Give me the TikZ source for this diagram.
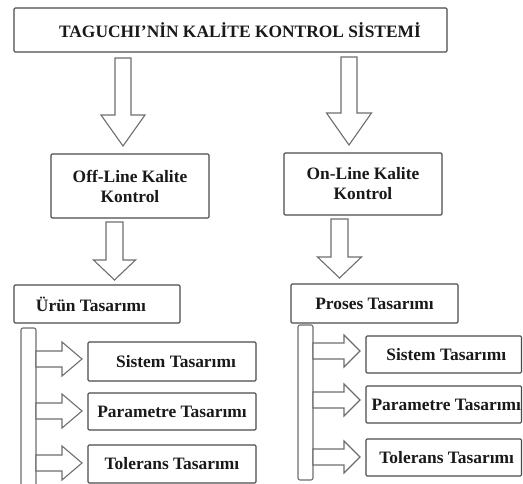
\documentclass[tikz,border=0pt]{standalone}
\usepackage{fontspec}
\setmainfont{Liberation Serif}
\definecolor{boxgray}{HTML}{4A4A4A}
\definecolor{arrgray}{HTML}{6E6E6E}
\newcommand\DownArr[6]{% cx, ytop, yhead, ytip, shaft half, head half
  \draw[barrow] ({#1-#5},#2) -- ({#1+#5},#2) -- ({#1+#5},#3) -- ({#1+#6},#3)
    -- (#1,#4) -- ({#1-#6},#3) -- ({#1-#5},#3) -- cycle;}
\newcommand\RightArr[6]{% xleft, cy, xhead, xtip, shaft half, head half
  \draw[barrow] (#1,{#2-#5}) -- (#3,{#2-#5}) -- (#3,{#2-#6}) -- (#4,#2)
    -- (#3,{#2+#6}) -- (#3,{#2+#5}) -- (#1,{#2+#5}) -- cycle;}
\begin{document}
\begin{tikzpicture}[x=1pt,y=-1pt,
  box/.style={draw=boxgray, line width=1.1pt, rounded corners=1.2pt, fill=white,
    inner sep=0pt, align=center, font=\bfseries\fontsize{17.4}{20}\selectfont, text=black!90},
  barrow/.style={draw=arrgray, line width=1.1pt, fill=white, line join=miter},
  bar/.style={draw=arrgray, line width=1.1pt, fill=white, rounded corners=2pt}]
\useasboundingbox (0,0) rectangle (523,484);

% boxes
\node[box, minimum width=433pt, minimum height=44pt] (title) at (230.5,30)
  {\hspace*{19pt}TAGUCHI{\char"0027}NİN KALİTE KONTROL SİSTEMİ};
\node[box, minimum width=158pt, minimum height=64pt] (off) at (130,186)
  {Off-Line Kalite\\Kontrol};
\node[box, minimum width=158pt, minimum height=62pt] (on) at (363,184)
  {On-Line Kalite\\Kontrol};
\node[box, minimum width=166pt, minimum height=38pt] (urun) at (97,304)
  {Ürün Tasarımı\hspace*{12pt}};
\node[box, minimum width=167pt, minimum height=39pt] (proses) at (374.5,303.5)
  {Proses Tasarımı};

\node[box, minimum width=168pt, minimum height=39pt] (ls) at (172,361.5)
  {\hspace*{8pt}Sistem Tasarımı};
\node[box, minimum width=168pt, minimum height=37pt] (lp) at (172,411.5)
  {Parametre Tasarımı};
\node[box, minimum width=168pt, minimum height=38pt] (lt) at (172,464)
  {Tolerans Tasarımı};
\node[box, minimum width=155.5pt, minimum height=37pt] (rs) at (443.75,354.5)
  {\hspace*{5pt}Sistem Tasarımı};
\node[box, minimum width=155.5pt, minimum height=37pt] (rp) at (443.75,404.5)
  {\hspace*{5pt}Parametre Tasarımı};
\node[box, minimum width=155.5pt, minimum height=37pt] (rt) at (443.75,457.5)
  {\hspace*{6pt}Tolerans Tasarımı};

% big down arrows
\DownArr{123}{58}{115}{146}{8}{22}
\DownArr{349}{57}{113}{145}{8}{22.5}
% small down arrows
\DownArr{114.5}{222}{260}{280}{8.5}{21}
\DownArr{339.5}{219}{257}{278}{8.5}{22}

% side bars
\draw[bar] (21,328) rectangle (36,490);
\draw[bar] (298,325) rectangle (313,480);

% right arrows
\RightArr{36}{359}{62}{82}{8}{17}
\RightArr{36}{411}{62}{82}{8}{17}
\RightArr{36}{463}{62}{82}{8}{17}
\RightArr{313}{351}{344}{360}{8}{16}
\RightArr{313}{400}{344}{360}{8}{16}
\RightArr{313}{457}{344}{360}{8}{16}
\end{tikzpicture}
\end{document}
